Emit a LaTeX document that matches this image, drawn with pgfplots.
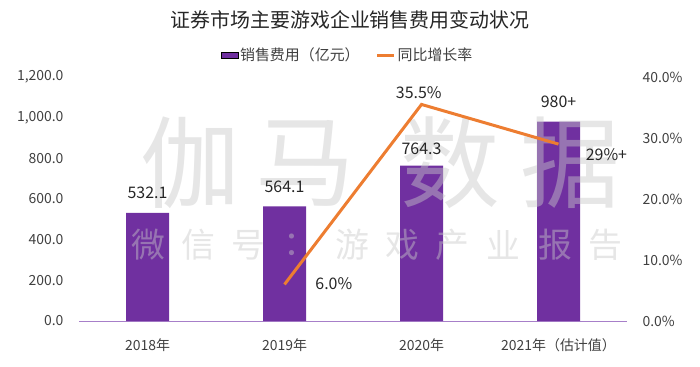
\documentclass[border=0pt]{standalone}
\usepackage{pgfplots}
\pgfplotsset{compat=1.18}
\usepackage{fontspec}
\setmainfont{Noto Sans CJK SC}
\definecolor{barc}{HTML}{7030A0}
\definecolor{linec}{HTML}{ED7D31}
\definecolor{txt}{HTML}{404040}
\definecolor{wm}{HTML}{C8C8C8}
\definecolor{axc}{HTML}{A77FC9}
\begin{document}
\begin{tikzpicture}[x=1bp,y=1bp]
\path[use as bounding box] (0,0) rectangle (700,366);
% title
\node[font=\fontsize{20}{20}\selectfont, text=black!85] at (350,346) {证券市场主要游戏企业销售费用变动状况};
\begin{axis}[
  at={(79bp,45bp)}, anchor=south west, scale only axis,
  width=548bp, height=244bp,
  xmin=-0.5, xmax=3.5, ymin=0, ymax=1200,
  axis x line*=bottom, axis y line*=left,
  x axis line style={draw=axc, line width=1pt, -},
  y axis line style={draw=none},
  major tick length=0pt,
  xtick={0,1,2,3},
  xticklabels={2018年,2019年,2020年,2021年（估计值）},
  xticklabel style={font=\fontsize{14}{14}\selectfont, text=txt, yshift=-14bp},
  ytick={0,200,...,1200},
  yticklabel style={font=\fontsize{14}{14}\selectfont, text=txt, xshift=-12bp,
    /pgf/number format/.cd, fixed, fixed zerofill, precision=1, 1000 sep={,}, assume math mode=true},
  scaled y ticks=false,
]
\addplot[ybar, bar width=43bp, fill=barc, draw=none] coordinates {(0,532.1) (1,564.1) (2,764.3) (3,980)};
\end{axis}
% watermark (over the bars, semi-transparent)
\begin{scope}[every node/.style={text=wm,text opacity=0.45,inner sep=0}]
\node[font=\fontsize{100}{100}\selectfont] at (190,203) {伽};
\node[font=\fontsize{100}{100}\selectfont] at (305,203) {马};
\node[font=\fontsize{100}{100}\selectfont] at (450,203) {数};
\node[font=\fontsize{100}{100}\selectfont] at (570,203) {据};
\foreach \c/\xx in {微/148,信/198,号/248,：/300,游/352,戏/402,产/452,业/503,报/555,告/605}
  \node[font=\fontsize{34}{34}\selectfont] at (\xx,121) {\c};
\end{scope}
\begin{axis}[
  at={(79bp,45bp)}, anchor=south west, scale only axis,
  width=548bp, height=244bp,
  xmin=-0.5, xmax=3.5, ymin=0, ymax=1200,
  axis lines=none,
]
\addplot[draw=none, mark=none, forget plot] coordinates {(0,0) (3,0)};
\begin{scope}[every node/.style={font=\fontsize{16}{16}\selectfont, text=black!85, anchor=base, inner sep=0}]
\node at (axis cs:0,532.1) [yshift=14bp] {532.1};
\node at (axis cs:1,564.1) [yshift=14bp] {564.1};
\node at (axis cs:2,764.3) [yshift=11bp] {764.3};
\node at (axis cs:3,980) [yshift=14bp] {980+};
\end{scope}
\end{axis}
\begin{axis}[
  at={(79bp,45bp)}, anchor=south west, scale only axis,
  width=548bp, height=244bp,
  xmin=-0.5, xmax=3.5, ymin=0, ymax=40,
  axis x line=none, axis y line*=right,
  y axis line style={draw=none},
  major tick length=0pt,
  ytick={0,10,...,40},
  yticklabel={\pgfmathprintnumber[fixed,fixed zerofill,precision=1,assume math mode=true]{\tick}\%},
  yticklabel style={font=\fontsize{14}{14}\selectfont, text=txt, xshift=12bp},
  legend style={at={(0.49,1.09)}, anchor=center, draw=none, fill=none,
    font=\fontsize{15}{15}\selectfont, text=txt,
    /tikz/every even column/.append style={column sep=14bp}},
  legend columns=2,
  legend cell align=left,
]
\addlegendimage{area legend, fill=barc, draw=none}
\addlegendentry{销售费用（亿元）}
\addplot[linec, line width=3bp, mark=none] coordinates {(1,6.0) (2,35.5) (3,29)};
\addlegendentry{同比增长率}
\begin{scope}[every node/.style={font=\fontsize{16}{16}\selectfont, text=black!85, inner sep=0}]
\node at (axis cs:1.36,6.1) {6.0\%};
\node at (axis cs:1.98,37.5) {35.5\%};
\node at (axis cs:3.35,27.2) {29\%+};
\end{scope}
\end{axis}
\end{tikzpicture}
\end{document}
